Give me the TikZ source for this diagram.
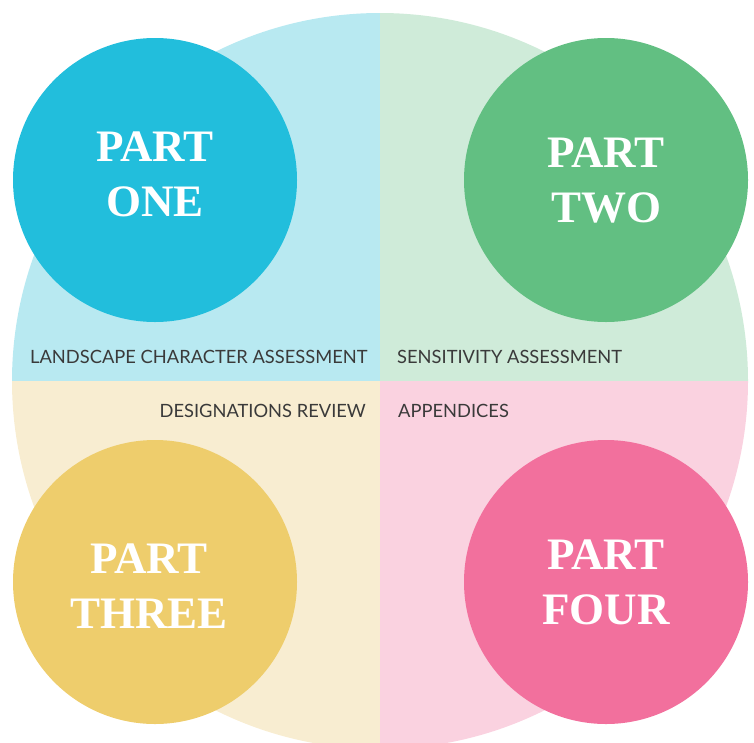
\documentclass[tikz,border=0pt]{standalone}
\usepackage{fontspec}
\setmainfont{Liberation Serif}
\newfontfamily\capfont{Lato}

\definecolor{oneDark}{HTML}{22BEDC}
\definecolor{oneLight}{HTML}{B8E9F1}
\definecolor{twoDark}{HTML}{62BF82}
\definecolor{twoLight}{HTML}{CFEBD9}
\definecolor{threeDark}{HTML}{EECD6C}
\definecolor{threeLight}{HTML}{F8EDD1}
\definecolor{fourDark}{HTML}{F2709D}
\definecolor{fourLight}{HTML}{FAD2E0}
\definecolor{capGrey}{HTML}{3A3A3A}

\begin{document}
\begin{tikzpicture}[
    x=1pt, y=-1pt,
    part/.style={circle, minimum size=284pt, inner sep=0pt},
    parttext/.style={inner sep=0pt, text=white, align=center,
      font=\fontsize{45}{55}\selectfont\bfseries},
    caption/.style={inner sep=0pt, text=capGrey, font=\capfont\fontsize{18.3}{20}\selectfont}
  ]
  \useasboundingbox (0,0) rectangle (754,742);
  \coordinate (mid) at (380,381);

  % the four quarters of the big disc
  \begin{scope}
    \clip (mid) circle[radius=368pt];
    \fill[oneLight] (0,0) rectangle (mid);
    \fill[twoLight] (754,0) rectangle (mid);
    \fill[threeLight] (0,760) rectangle (mid);
    \fill[fourLight] (754,760) rectangle (mid);
  \end{scope}

  \node[part, fill=oneDark] (partone) at (155,180) {};
  \node[part, fill=twoDark] (parttwo) at (606,180) {};
  \node[part, fill=threeDark] (partthree) at (155,582) {};
  \node[part, fill=fourDark] (partfour) at (606,582) {};
  \node[parttext] (onetext) at ([yshift=6pt]partone) {PART\\ONE};
  \node[parttext] (twotext) at (parttwo) {PART\\TWO};
  \node[parttext] (threetext) at ([xshift=-6pt, yshift=-4pt]partthree) {PART\\THREE};
  \node[parttext] (fourtext) at (partfour) {PART\\FOUR};

  \node[caption, anchor=base west] (capone) at (30,363) {LANDSCAPE CHARACTER ASSESSMENT};
  \node[caption, anchor=base west] (captwo) at (397,363) {SENSITIVITY ASSESSMENT};
  \node[caption, anchor=base east] (capthree) at (366,417) {DESIGNATIONS REVIEW};
  \node[caption, anchor=base west] (capfour) at (398,417) {APPENDICES};
\end{tikzpicture}
\end{document}
